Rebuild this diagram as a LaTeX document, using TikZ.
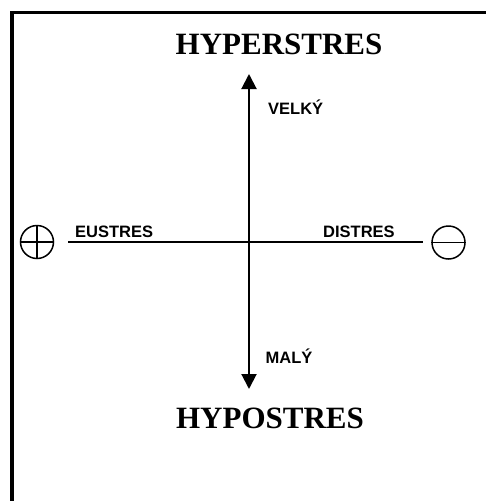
\documentclass[tikz,border=0pt]{standalone}
\usepackage{fontspec}
\setmainfont{Liberation Serif}
\setsansfont{Liberation Sans}
\usetikzlibrary{arrows.meta}
\tikzset{
  frame/.style={line width=3.5pt, line join=miter},
  axis/.style={line width=2pt, {Triangle[width=15pt,length=15pt]}-{Triangle[width=15pt,length=15pt]}},
  hline/.style={line width=2pt},
  sign/.style={draw, circle, line width=1.5pt, minimum size=33pt, inner sep=0pt},
  title/.style={font=\bfseries\fontsize{31}{33}\selectfont, inner sep=0pt, anchor=base},
  lab/.style={font=\sffamily\bfseries\fontsize{16.5}{18}\selectfont, inner sep=0pt, anchor=base west},
}
\begin{document}
\begin{tikzpicture}[x=1pt,y=-1pt]
\useasboundingbox (0,0) rectangle (486,501);
\draw[frame] (12,501) -- (12,12.5) -- (486,12.5);
\coordinate (top) at (249,74);
\coordinate (bot) at (249,389);
\coordinate (left) at (68,241.5);
\coordinate (right) at (423,241.5);
\draw[axis] (bot) -- (top);
\draw[hline] (left) -- (right);
\node[sign] (plus) at (37,242) {};
\draw[line width=1.5pt] (plus.north) -- (plus.south) (plus.west) -- (plus.east);
\node[sign] (minus) at (448.5,242.5) {};
\draw[line width=1.5pt] (minus.west) -- (minus.east);
\node[title] (hyper) at (279,54) {HYPERSTRES};
\node[title] (hypo) at (270,428) {HYPOSTRES};
\node[lab] (velky) at (268,114) {VELKÝ};
\node[lab] (maly) at (265.5,363.5) {MALÝ};
\node[lab] (eu) at (75,237) {EUSTRES};
\node[lab] (dis) at (323,237) {DISTRES};
\end{tikzpicture}
\end{document}
